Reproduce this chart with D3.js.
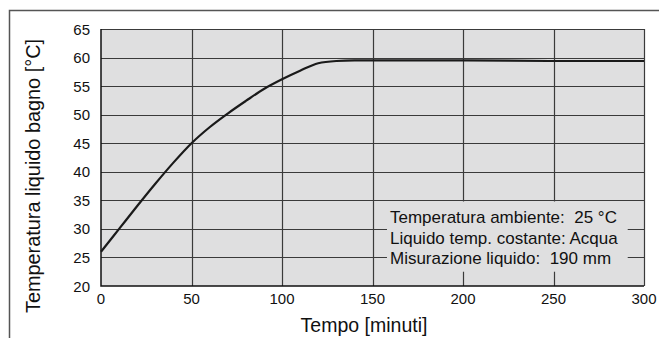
<!DOCTYPE html>
<html>
<head>
    <title>Temperatura liquido bagno</title>
    <script src="https://d3js.org/d3.v7.min.js"></script>
    <style>
        body { margin: 0; padding: 0; background: #fff; overflow: hidden; }
        svg text { font-family: "Liberation Sans", Arial, sans-serif; fill: #111; white-space: pre; }
    </style>
</head>
<body>
    <script>
        // tempo [minuti] and temperatura [°C]
        var tempo = [0, 10, 20, 30, 40, 50, 60, 70, 80, 90, 100, 110, 120, 130, 140, 150, 200, 250, 300];
        var temperatura = [26, 30, 34, 37.9, 41.6, 45, 47.8, 50.2, 52.4, 54.5, 56.2, 57.7, 59, 59.4, 59.5, 59.5, 59.5, 59.4, 59.4];
        var xTicks = [0, 50, 100, 150, 200, 250, 300];
        var yTicks = [20, 25, 30, 35, 40, 45, 50, 55, 60, 65];
        var legendLines = ["Temperatura ambiente:  25 °C", "Liquido temp. costante: Acqua", "Misurazione liquido:  190 mm"];

        var width = 659, height = 338;
        var svg = d3.select("body").append("svg")
            .attr("width", width)
            .attr("height", height);

        var x = d3.scaleLinear().domain([0, 300]).range([101, 644]);
        var y = d3.scaleLinear().domain([20, 65]).range([286, 29]);

        // outer frame (top + left)
        svg.append("path")
            .attr("d", "M9.5,338V10.5H659")
            .attr("fill", "none")
            .attr("stroke", "#555")
            .attr("stroke-width", 1.5);

        var bg = "#dfdfe0";
        svg.append("rect")
            .attr("x", x(0)).attr("y", y(65))
            .attr("width", x(300) - x(0)).attr("height", y(20) - y(65))
            .attr("fill", bg);

        // grid
        svg.append("g").selectAll("line").data(yTicks.slice(1)).join("line")
            .attr("x1", x(0)).attr("x2", x(300))
            .attr("y1", d => Math.round(y(d)) + 0.5).attr("y2", d => Math.round(y(d)) + 0.5)
            .attr("stroke", "#3a3a3a").attr("stroke-width", 1.2);
        svg.append("g").selectAll("line").data(xTicks.slice(1)).join("line")
            .attr("x1", d => Math.round(x(d)) + 0.5).attr("x2", d => Math.round(x(d)) + 0.5)
            .attr("y1", y(65)).attr("y2", y(20))
            .attr("stroke", "#3a3a3a").attr("stroke-width", 1.2);

        // legend box masks the grid
        var lx0 = x(158), lx1 = x(291), ly0 = y(34.8), ly1 = y(22.5);
        svg.append("rect")
            .attr("x", lx0).attr("y", ly0)
            .attr("width", lx1 - lx0).attr("height", ly1 - ly0)
            .attr("fill", bg);
        svg.append("g").selectAll("text").data(legendLines).join("text")
            .attr("x", lx0 + 3)
            .attr("y", (d, i) => ly0 + 22 + i * 20.5)
            .attr("font-size", 17)
            .text(d => d);

        // axes lines
        svg.append("path")
            .attr("d", "M" + x(0) + "," + y(65) + "V" + y(20) + "H" + x(300))
            .attr("fill", "none")
            .attr("stroke", "#111")
            .attr("stroke-width", 1.5);

        // curve
        var line = d3.line()
            .x((d, i) => x(tempo[i]))
            .y(d => y(d))
            .curve(d3.curveMonotoneX);
        svg.append("path")
            .datum(temperatura)
            .attr("d", line)
            .attr("fill", "none")
            .attr("stroke", "#1a1a1a")
            .attr("stroke-width", 2.2);

        // tick labels
        svg.append("g").selectAll("text").data(yTicks).join("text")
            .attr("x", 90)
            .attr("y", d => y(d) + 5.5)
            .attr("text-anchor", "end")
            .attr("font-size", 15)
            .text(d => d);
        svg.append("g").selectAll("text").data(xTicks).join("text")
            .attr("x", d => x(d))
            .attr("y", 304)
            .attr("text-anchor", "middle")
            .attr("font-size", 15)
            .text(d => d);

        // axis titles
        svg.append("text")
            .attr("x", 364)
            .attr("y", 332)
            .attr("text-anchor", "middle")
            .attr("font-size", 19.5)
            .text("Tempo [minuti]");
        svg.append("text")
            .attr("transform", "translate(40,176) rotate(-90)")
            .attr("text-anchor", "middle")
            .attr("font-size", 19.5)
            .attr("textLength", 274)
            .attr("lengthAdjust", "spacingAndGlyphs")
            .text("Temperatura liquido bagno [°C]");
    </script>
</body>
</html>
